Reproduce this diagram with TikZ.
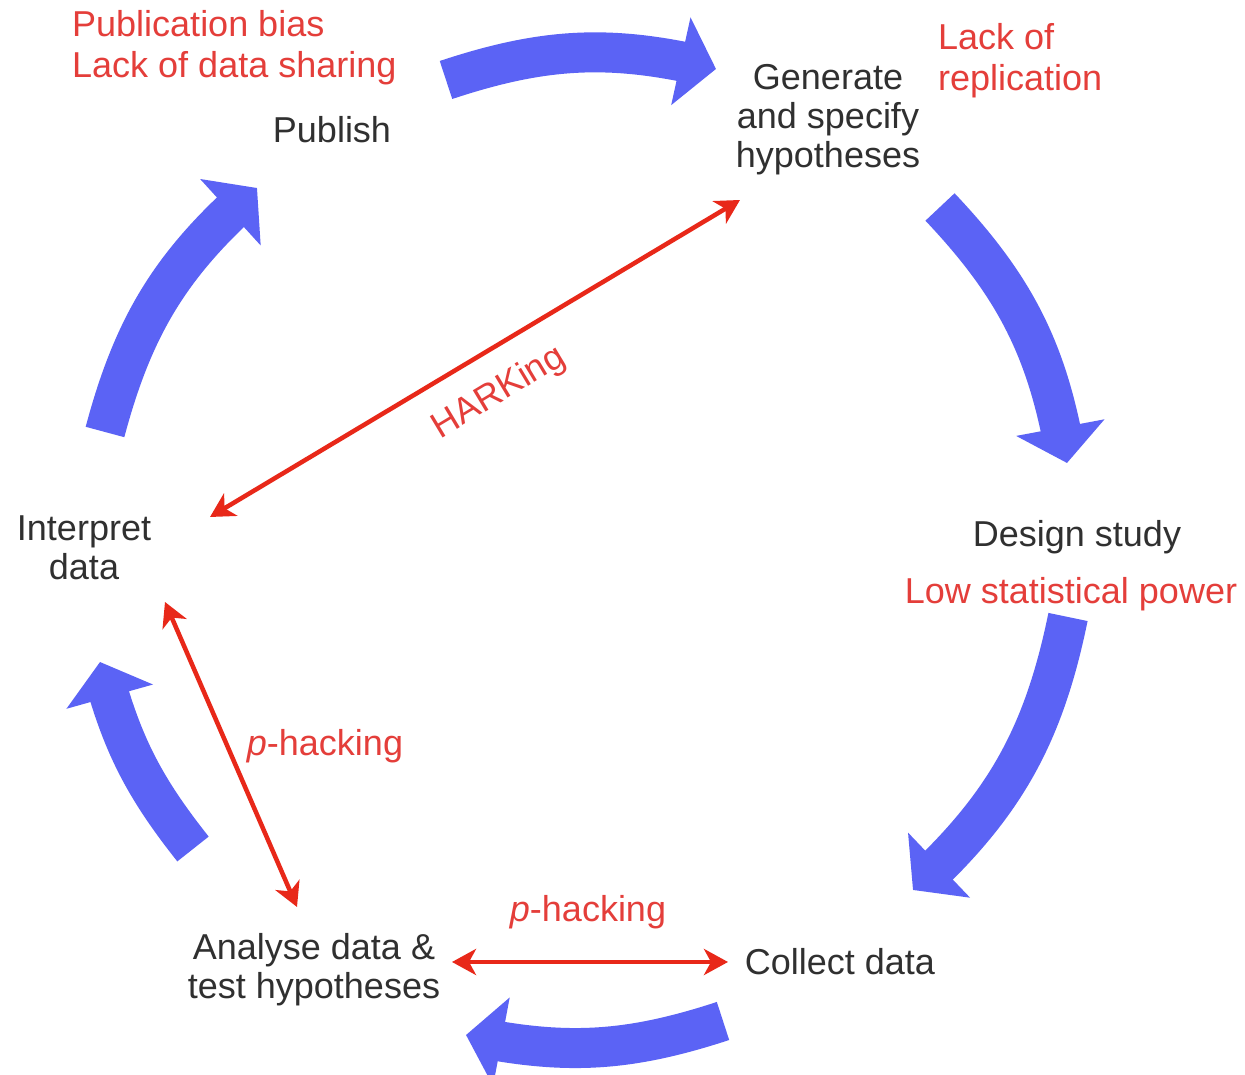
\documentclass[tikz,border=0pt]{standalone}
\usepackage{fontspec}
\setmainfont{Liberation Sans}
\usetikzlibrary{arrows.meta,bending,calc}
\definecolor{cycblue}{RGB}{91,99,245}
\definecolor{issuered}{RGB}{232,40,25}
\definecolor{issuetext}{RGB}{228,62,58}
\definecolor{stagetext}{RGB}{48,48,48}
\begin{document}
\begin{tikzpicture}[x=1pt,y=1pt,
  stage/.style={text=stagetext, font=\fontsize{36}{39}\selectfont, align=center, inner sep=0pt},
  issue/.style={text=issuetext, font=\fontsize{36}{41}\selectfont, align=left, inner sep=0pt},
  cycarrow/.style={draw=cycblue, line width=40pt, line cap=butt, -{Triangle[width=88pt,length=36pt]}},
  flaw/.style={draw=issuered, line width=4.5pt, {Stealth[width=26pt,length=24pt,inset=7pt]}-{Stealth[width=26pt,length=24pt,inset=7pt]}},
  flawlabel/.style={text=issuetext, font=\fontsize{36}{41}\selectfont, inner sep=0pt}]
\useasboundingbox[fill=white] (0,0) rectangle (1245,1075);

% stages
\node[stage] (pub) at (332,945) {Publish};
\node[stage] (gen) at (828,955) {Generate\\and specify\\hypotheses};
\node[stage] (design) at (1077,538) {Design study};
\node[stage] (collect) at (840,113) {Collect data};
\node[stage] (analyse) at (314,105) {Analyse data \&\\test hypotheses};
\node[stage] (interp) at (84,527) {Interpret\\data};

% problems
\node[issue, anchor=west] (pubflaw) at (72,1027) {Publication bias\\Lack of data sharing};
\node[issue, anchor=west] (genflaw) at (938,1014) {Lack of\\replication};
\node[issue, align=center] (designflaw) at (1071,481) {Low statistical power};

% cycle arrows
\draw[cycarrow] ([shift={(114,50)}]pub.center) to[bend left=16] ([shift={(-112,51)}]gen.center);
\draw[cycarrow] ([shift={(112,-87)}]gen.center) to[bend left=17] ([shift={(-10,74)}]design.center);
\draw[cycarrow] ([shift={(-9,-80)}]design.center) to[bend left=18] ([shift={(73,72)}]collect.center);
\draw[cycarrow] ([shift={(-117,-59)}]collect.center) to[bend left=15] ([shift={(152,-65)}]analyse.center);
\draw[cycarrow] ([shift={(-121,121)}]analyse.center) to[bend left=12] ([shift={(16,-114)}]interp.center);
\draw[cycarrow] ([shift={(21,116)}]interp.center) to[bend left=17] ([shift={(-75,-58)}]pub.center);

% questionable practices
\draw[flaw] ([shift={(-88,-80)}]gen.center) -- ([shift={(126,31)}]interp.center);
\node[flawlabel, rotate=31] (hark) at (499,682) {HARKing};
\draw[flaw] ([shift={(81,-54)}]interp.center) -- ([shift={(-17,63)}]analyse.center);
\node[flawlabel] (phack1) at (325,329) {\textit{p}-hacking};
\draw[flaw] ([shift={(138,8)}]analyse.center) -- ([shift={(-112,0)}]collect.center);
\node[flawlabel] (phack2) at (588,163) {\textit{p}-hacking};
\end{tikzpicture}
\end{document}
